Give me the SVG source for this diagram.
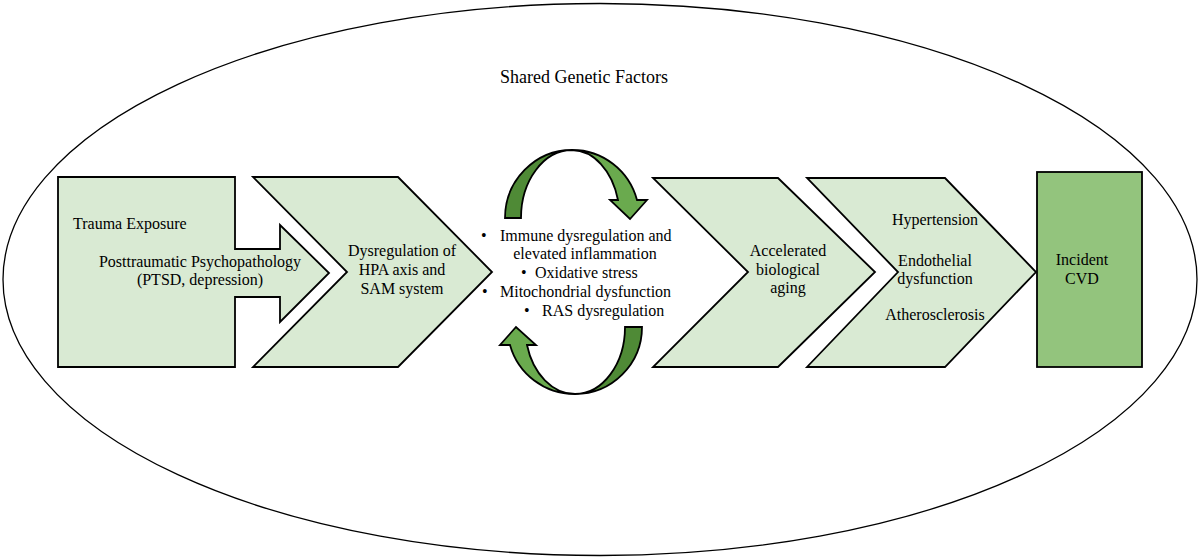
<svg xmlns="http://www.w3.org/2000/svg" width="1200" height="559" viewBox="0 0 1200 559">
<style>
.t{font-family:"Liberation Serif","Times New Roman",serif;font-size:16px;fill:#000}
.c{text-anchor:middle}
.box{fill:#d9ead3;stroke:#000;stroke-width:1.8;stroke-linejoin:miter}
.dark{fill:#4f8a36;stroke:none}
.light{fill:#6aaa4e;stroke:none}
.outl{fill:none;stroke:#000;stroke-width:1.8;stroke-linejoin:miter}
</style>
<rect x="0" y="0" width="1200" height="559" fill="#fff"/>
<g id="shared-genetic-factors">
<ellipse cx="600" cy="279.5" rx="597" ry="276" fill="none" stroke="#000" stroke-width="1.3"/>
<text class="t c" x="584" y="83" style="font-size:18px">Shared Genetic Factors</text>
</g>
<g id="trauma">
<path class="box" d="M58 177 L235 177 L235 249 L280 249 L280 225 L329 273 L280 322 L280 297 L235 297 L235 367 L58 367 Z"/>
<text class="t" x="73" y="229">Trauma Exposure</text>
<text class="t c" x="200" y="267">Posttraumatic Psychopathology</text>
<text class="t c" x="200" y="285">(PTSD, depression)</text>
</g>
<g id="hpa">
<path class="box" d="M253 177 L398 177 L492 272 L398 367 L253 367 L347 272 Z"/>
<text class="t c" x="402" y="256">Dysregulation of</text>
<text class="t c" x="402" y="275">HPA axis and</text>
<text class="t c" x="402" y="294">SAM system</text>
</g>
<g id="mechanisms">
<text class="t" x="481" y="241">•</text>
<text class="t" x="500" y="241">Immune dysregulation and</text>
<text class="t c" x="585" y="259">elevated inflammation</text>
<text class="t" x="521" y="278">•</text>
<text class="t" x="535" y="278">Oxidative stress</text>
<text class="t" x="482" y="297">•</text>
<text class="t" x="500" y="297">Mitochondrial dysfunction</text>
<text class="t" x="524" y="316">•</text>
<text class="t" x="542" y="316">RAS dysregulation</text>
</g>
<g id="aging">
<path class="box" d="M653 178 L778 178 L875 272 L778 367 L653 367 L748 272 Z"/>
<text class="t c" x="788" y="256">Accelerated</text>
<text class="t c" x="788" y="275">biological</text>
<text class="t c" x="788" y="293">aging</text>
</g>
<g id="vascular">
<path class="box" d="M807 178 L945 178 L1036 272 L945 367 L807 367 L898 272 Z"/>
<text class="t c" x="935" y="225">Hypertension</text>
<text class="t c" x="935" y="266">Endothelial</text>
<text class="t c" x="935" y="284">dysfunction</text>
<text class="t c" x="935" y="320">Atherosclerosis</text>
</g>
<g id="cvd">
<rect x="1037" y="172" width="105" height="195" fill="#93c47d" stroke="#000" stroke-width="1.8"/>
<text class="t c" x="1082" y="265">Incident</text>
<text class="t c" x="1082" y="284">CVD</text>
</g>
<g id="connectors">
<g id="cycle-top">
<path class="dark" d="M505 218 A67 68 0 0 1 572 150 A51 68 0 0 0 521 218 Z"/>
<path class="light" d="M572 150 A67 68 0 0 1 637 200 L647 200 L630 219 L610 200 L618 200 A48 68 0 0 0 572 150 Z"/>
<path class="outl" d="M505 218 A67 68 0 0 1 572 150 A67 68 0 0 1 637 200 L647 200 L630 219 L610 200 L618 200 A48 68 0 0 0 572 150 A51 68 0 0 0 521 218 Z"/>
</g>
<g id="cycle-bottom">
<path class="dark" d="M642 327 A67 67 0 0 1 575 394 A50 67 0 0 0 625 327 Z"/>
<path class="light" d="M575 394 A67 67 0 0 1 510 345 L500 345 L516 327 L536 345 L527 345 A50 67 0 0 0 575 394 Z"/>
<path class="outl" d="M642 327 A67 67 0 0 1 575 394 A67 67 0 0 1 510 345 L500 345 L516 327 L536 345 L527 345 A50 67 0 0 0 575 394 A50 67 0 0 0 625 327 Z"/>
</g>
</g>
</svg>
